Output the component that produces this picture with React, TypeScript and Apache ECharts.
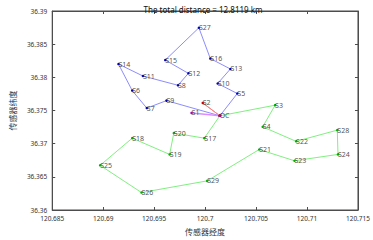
import React, { useEffect, useRef } from "react";
import * as echarts from "echarts";

const stationNames = ["DC","S1","S2","S3","S4","S5","S6","S7","S8","S9","S10","S11","S12","S13","S14","S15","S16","S17","S18","S19","S20","S21","S22","S23","S24","S25","S26","S27","S28","S29"];
const stationLon = [120.70145,120.69867,120.69977,120.70687,120.70565,120.70316,120.69285,120.69428,120.69734,120.69621,120.70123,120.6939,120.69836,120.70248,120.6915,120.69609,120.70051,120.69992,120.69285,120.69652,120.69693,120.70531,120.70893,120.70877,120.71304,120.6897,120.69376,120.69939,120.71297,120.7002];
const stationLat = [36.3742,36.37463,36.37614,36.3758,36.37254,36.37756,36.378,36.37536,36.3788,36.37649,36.37907,36.3802,36.3806,36.38126,36.382,36.3826,36.38283,36.37083,36.37083,36.36838,36.3716,36.36912,36.37035,36.36742,36.36838,36.36673,36.36263,36.38747,36.37204,36.36439];

const routeBlue = ["DC","S5","S10","S13","S16","S27","S15","S12","S8","S11","S14","S6","S7","S9","DC"];
const routeRed = ["DC","S2","DC"];
const routeMagenta = ["DC","S1","DC"];
const routeGreen = ["DC","S3","S4","S22","S28","S24","S23","S21","S29","S26","S25","S18","S19","S20","S17","DC"];

const titleText = "The total distance = 12.8119 km";
const xAxisName = "传感器经度";
const yAxisName = "传感器纬度";
const xMin = 120.685, xMax = 120.715, xStep = 0.005;
const yMin = 36.36, yMax = 36.39, yStep = 0.005;

const fmt = (v: number) => String(parseFloat(v.toFixed(3)));

function routeData(route: string[]) {
  return route.map((n) => {
    const i = stationNames.indexOf(n);
    return [stationLon[i], stationLat[i]];
  });
}

export default function App() {
  const ref = useRef<HTMLDivElement>(null);
  useEffect(() => {
    document.body.style.margin = "0";
    const chart = echarts.init(ref.current!, null, { renderer: "svg" });
    const font = "'Noto Sans', 'Noto Sans CJK SC', sans-serif";
    const axisCommon = {
      type: "value" as const,
      axisLine: { show: true, lineStyle: { color: "#4d4d4d", width: 1 } },
      axisTick: { show: true, inside: true, length: 3, lineStyle: { color: "#4d4d4d" } },
      splitLine: { show: false },
    };
    const mkLine = (route: string[], line: string, dot: string, w = 1) => ({
      type: "line",
      data: routeData(route),
      symbol: "circle",
      symbolSize: 2.5,
      showSymbol: true,
      itemStyle: { color: dot },
      lineStyle: { color: line, width: w },
      silent: true,
      z: 2,
    });
    chart.setOption({
      animation: false,
      title: {
        text: titleText,
        left: 198,
        textAlign: "center",
        top: 0,
        textStyle: { fontFamily: font, fontSize: 8, fontWeight: "normal", color: "#111" },
      },
      grid: { left: 38, right: 14, top: 11, bottom: 24, show: true, borderColor: "#4d4d4d", borderWidth: 1, backgroundColor: "#fff" },
      xAxis: [
        {
          ...axisCommon,
          min: xMin, max: xMax, interval: xStep,
          position: "bottom",
          axisLabel: { formatter: fmt, fontFamily: font, fontSize: 6.5, color: "#333", margin: 5 },
          name: xAxisName, nameLocation: "middle", nameGap: 17,
          nameTextStyle: { fontFamily: font, fontSize: 8, color: "#333" },
        },
        {
          ...axisCommon,
          min: xMin, max: xMax, interval: xStep,
          position: "top",
          axisLabel: { show: false },
        },
      ],
      yAxis: [
        {
          ...axisCommon,
          min: yMin, max: yMax, interval: yStep,
          position: "left",
          axisLabel: { formatter: fmt, fontFamily: font, fontSize: 6.5, color: "#333", margin: 5 },
          name: yAxisName, nameLocation: "middle", nameGap: 28,
          nameTextStyle: { fontFamily: font, fontSize: 8, color: "#333" },
        },
        {
          ...axisCommon,
          min: yMin, max: yMax, interval: yStep,
          position: "right",
          axisLabel: { show: false },
        },
      ],
      series: [
        mkLine(routeBlue, "#8c8cff", "#0000bb"),
        mkLine(routeGreen, "#80f080", "#00b000"),
        mkLine(routeRed, "#ff8080", "#cc0000"),
        mkLine(routeMagenta, "#dc8cff", "#aa00cc", 1.6),
        {
          type: "scatter",
          data: stationNames.map((n, i) => [stationLon[i], stationLat[i], n]),
          symbolSize: 0,
          silent: true,
          z: 5,
          label: {
            show: true,
            position: "right",
            distance: 0,
            formatter: (p: any) => p.value[2],
            fontFamily: font,
            fontSize: 7,
            color: "#222",
          },
        },
      ],
    });
    return () => chart.dispose();
  }, []);
  return <div ref={ref} style={{ width: 373, height: 240 }} />;
}
